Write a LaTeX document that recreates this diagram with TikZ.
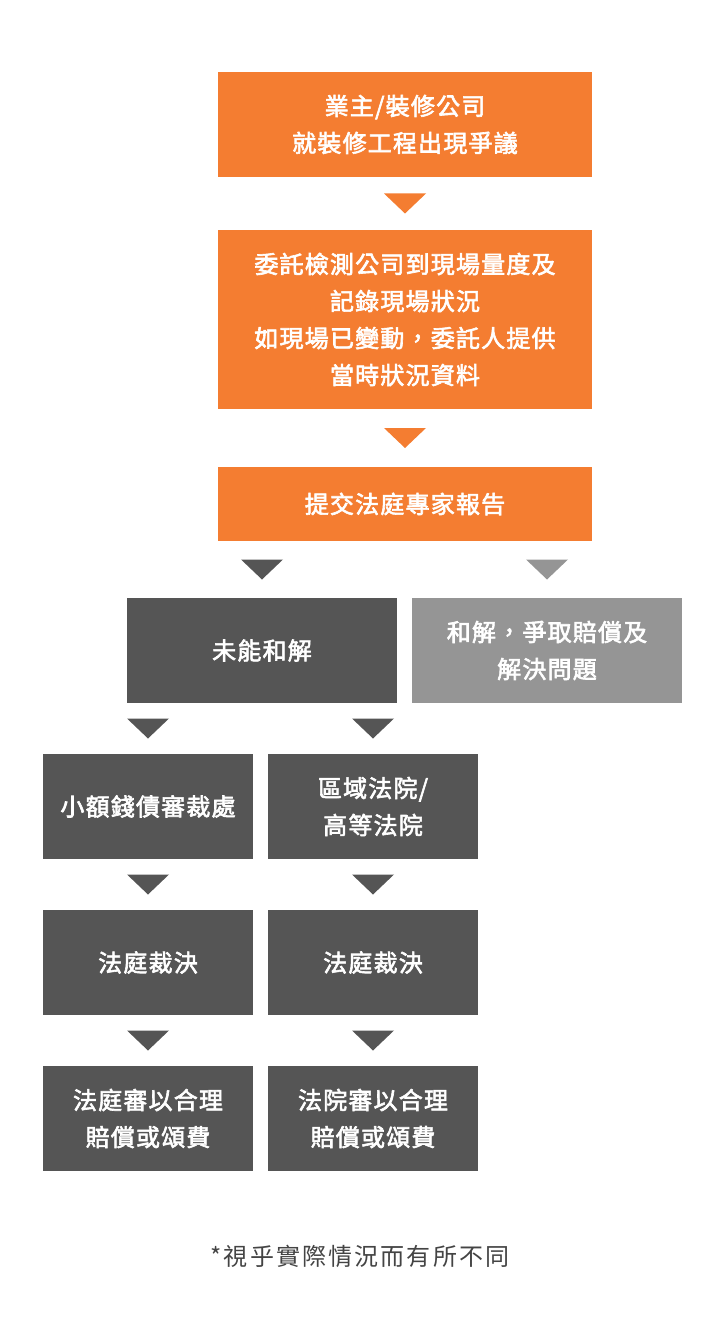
\documentclass[tikz,border=0pt]{standalone}
\usepackage{fontspec}
\setmainfont{Noto Sans CJK TC}[LetterSpace=5]
\newfontfamily\boxfont{Noto Sans CJK TC}[LetterSpace=5, FakeBold=2.5]
\newfontfamily\notefont{Noto Sans CJK TC}[LetterSpace=9]
\usetikzlibrary{calc}
\definecolor{orng}{HTML}{F47D31}
\definecolor{dgray}{HTML}{555555}
\definecolor{lgray}{HTML}{959595}
\definecolor{notegray}{HTML}{444444}
\tikzset{
  box/.style={rectangle, inner sep=0pt, text=white, align=center,
    font=\boxfont\fontsize{24}{37}\selectfont},
  obox/.style={box, fill=orng, minimum width=374pt},
  gbox/.style={box, fill=dgray, minimum width=270pt, minimum height=105pt},
  lbox/.style={box, fill=lgray, minimum width=270pt, minimum height=105pt},
  sbox/.style={box, fill=dgray, minimum width=210pt, minimum height=105pt},
}
\newcommand{\tri}[3]{% color, source node, target node
  \coordinate (tmp) at ($(#3.north)!0.5!(#3.north |- #2.south)$);
  \fill[#1] ($(tmp)+(-21,10)$) -- ($(tmp)+(21,10)$) -- ($(tmp)+(0,-10)$) -- cycle;
}
\begin{document}
\begin{tikzpicture}[x=1pt,y=1pt]
\useasboundingbox (0,0) rectangle (720,-1332);
\node[obox, minimum height=105pt] (b1) at (405,-124.5) {業主/裝修公司\\就裝修工程出現爭議};
\node[obox, minimum height=179pt] (b2) at (405,-319.5) {委託檢測公司到現場量度及\\記錄現場狀況\\如現場已變動，委託人提供\\當時狀況資料};
\node[obox, minimum height=74pt] (b3) at (405,-504) {提交法庭專家報告};
\node[gbox] (n1) at (262,-650.5) {未能和解};
\node[lbox] (n2) at (547,-650.5) {和解，爭取賠償及\\解決問題};
\node[sbox] (s1) at (148,-806.5) {小額錢債審裁處};
\node[sbox] (d1) at (373,-806.5) {區域法院/\\高等法院};
\node[sbox] (s2) at (148,-962.5) {法庭裁決};
\node[sbox] (d2) at (373,-962.5) {法庭裁決};
\node[sbox] (s3) at (148,-1118.5) {法庭審以合理\\賠償或頌費};
\node[sbox] (d3) at (373,-1118.5) {法院審以合理\\賠償或頌費};
\node[text=notegray, font=\notefont\fontsize{24}{28}\selectfont] (note) at (360,-1256) {*視乎實際情況而有所不同};
\tri{orng}{b1}{b2}
\tri{orng}{b2}{b3}
\tri{dgray}{b3}{n1}
\tri{lgray}{b3}{n2}
\tri{dgray}{n1}{s1}
\tri{dgray}{n1}{d1}
\tri{dgray}{s1}{s2}
\tri{dgray}{d1}{d2}
\tri{dgray}{s2}{s3}
\tri{dgray}{d2}{d3}
\end{tikzpicture}
\end{document}
